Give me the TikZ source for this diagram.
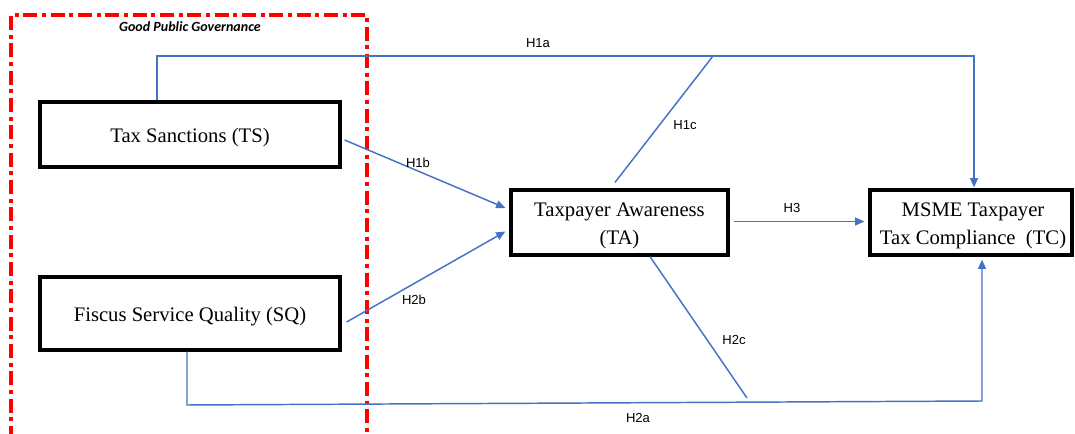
\documentclass[tikz,border=0pt]{standalone}
\usepackage{fontspec}
\setmainfont{Liberation Serif}
\newfontfamily\labfont{Liberation Sans}
\newfontfamily\govfont{Carlito}
\usetikzlibrary{calc,arrows.meta}
\definecolor{linkblue}{HTML}{4472C4}
\definecolor{govred}{HTML}{FF0000}
\tikzset{
  varbox/.style={draw=black, line width=2.4pt, fill=white, inner sep=0pt, align=center,
    font=\fontsize{15.5}{21}\selectfont},
  vtext/.style={inner sep=0pt, align=center, font=\fontsize{15.5}{21}\selectfont},
  conn/.style={draw=linkblue, line width=1.1pt},
  arr/.style={conn, -{Triangle[length=7pt,width=6pt]}},
  hlab/.style={font=\labfont\fontsize{9.8}{11}\selectfont, inner sep=1pt},
}
\begin{document}
\begin{tikzpicture}[x=0.75pt,y=-0.75pt]
\useasboundingbox (0,0) rectangle (1075,434);
% governance frame
\draw[govred, line width=2.7pt, dash pattern=on 10.5pt off 3.5pt on 3pt off 3.5pt]
  (11,440) -- (11,15) -- (367,15) -- (367,440);
\node[font=\govfont\bfseries\itshape\fontsize{10.5}{12}\selectfont, inner sep=0pt] (gov) at (190,27) {Good Public Governance};
% boxes
\node[varbox, minimum width=300*0.75pt, minimum height=65*0.75pt] (ts) at (190,134.5) {};
\node[varbox, minimum width=300*0.75pt, minimum height=73*0.75pt] (sq) at (190,313.5) {};
\node[varbox, minimum width=217*0.75pt, minimum height=65*0.75pt] (ta) at (619.5,222.5) {};
\node[varbox, minimum width=202*0.75pt, minimum height=65*0.75pt] (tc) at (971,222.5) {};
\node[vtext] (tst) at ($(ts.center)+(0,3)$) {Tax Sanctions (TS)};
\node[vtext] (sqt) at ($(sq.center)+(0,3)$) {Fiscus Service Quality (SQ)};
\node[vtext] (tat) at ($(ta.center)+(0,3)$) {Taxpayer Awareness\\(TA)};
\node[vtext] (tct) at ($(tc.center)+(2,3)$) {MSME Taxpayer\\Tax Compliance~~(TC)};
% corner points
\coordinate (h1aL) at (157,56);
\coordinate (h1aR) at (974,56);
\coordinate (h1cT) at (713,56);
\coordinate (h2aL) at (187,405);
\coordinate (h2aR) at (982,401);
\coordinate (h2cB) at (747,398);
% connectors
\draw[arr] ($(ts.north)+(-33,0)$) -- (h1aL) -- (h1aR) -- ($(tc.north)+(3,-1)$);
\draw[conn] ($(ta.north)+(-4.5,-6)$) -- (h1cT);
\draw[arr] ($(ts.east)+(3,5.5)$) -- ($(ta.west)+(-4,-14.5)$);
\draw[arr] ($(sq.east)+(5,8.5)$) -- ($(ta.west)+(-4,9)$);
\draw[arr] ($(ta.east)+(4,-1)$) -- ($(tc.west)+(-4,-1)$);
\draw[conn] ($(ta.south)+(30.5,0)$) -- (h2cB);
\draw[arr] ($(sq.south)+(-3,0)$) -- (h2aL) -- (h2aR) -- ($(tc.south)+(11,3)$);
% labels
\node[hlab] (l1a) at (538,43) {H1a};
\node[hlab] (l1b) at (418,163) {H1b};
\node[hlab] (l1c) at (685,125) {H1c};
\node[hlab] (l2b) at (414,300) {H2b};
\node[hlab] (l3) at (792,208) {H3};
\node[hlab] (l2c) at (734,340) {H2c};
\node[hlab] (l2a) at (638,418) {H2a};
\end{tikzpicture}
\end{document}
